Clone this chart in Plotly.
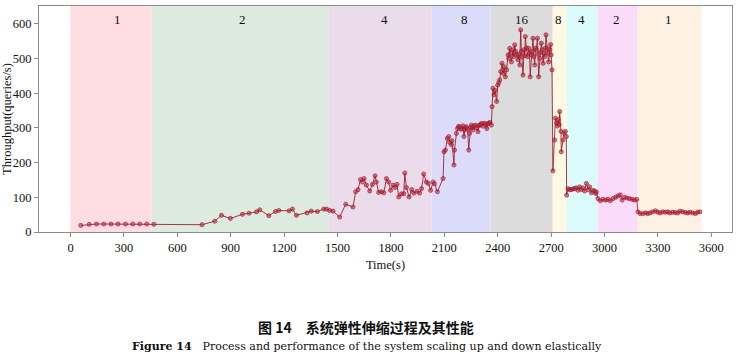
import plotly.graph_objects as go

# ---- data ----
band_start = [0, 455, 1451, 2029, 2360, 2709, 2787, 2961, 3186]
band_end = [455, 1451, 2029, 2360, 2709, 2787, 2961, 3186, 3545]
band_label = ["1", "2", "4", "8", "16", "8", "4", "2", "1"]
band_label_x = [266, 968, 1766, 2215, 2534, 2740, 2868, 3065, 3360]
band_color = ["#FFDDE3", "#DDEADF", "#EADCEA", "#DCDCFA", "#DCDCDC",
              "#FFF8E2", "#DCFBFC", "#FADCFA", "#FEF0E3"]

t_p1 = [58, 105, 146, 187, 228, 267, 309, 350, 389, 428, 468]
v_p1 = [19, 22, 23, 23, 23, 23, 23, 23, 23, 23, 22]

t_p2 = [739, 810, 848, 898, 966, 1003, 1045, 1063, 1114, 1151, 1170, 1228, 1247,
        1269, 1329, 1353, 1387, 1423, 1438, 1456, 1475]
v_p2 = [21, 31, 48, 39, 51, 54, 58, 64, 47, 59, 62, 61, 66,
        48, 55, 60, 59, 66, 66, 62, 60]

t_p4 = [1512, 1546, 1587, 1602, 1615, 1629, 1640, 1649, 1662, 1681, 1696, 1711,
        1718, 1731, 1747, 1760, 1775, 1787, 1798, 1812, 1823, 1834, 1844, 1859,
        1872, 1878, 1887, 1902, 1917, 1928, 1947, 1961, 1972, 1984, 1999, 2010,
        2023, 2037, 2045, 2061]
v_p4 = [43, 80, 72, 116, 122, 151, 144, 154, 135, 118, 137, 162,
        144, 114, 116, 113, 154, 144, 120, 135, 128, 137, 101, 110,
        110, 170, 128, 101, 122, 112, 117, 112, 125, 167, 144, 140,
        120, 144, 139, 116]

t_p8 = [2093, 2098, 2106, 2117, 2125, 2130, 2140, 2143, 2154, 2157, 2168, 2174,
        2180, 2186, 2192, 2199, 2205, 2210, 2214, 2219, 2224, 2231, 2237, 2242,
        2247, 2252, 2256, 2261, 2268, 2274, 2280, 2289, 2294, 2298, 2304, 2311,
        2318, 2326, 2332, 2339, 2345, 2350, 2357, 2364]
v_p8 = [154, 231, 236, 270, 275, 258, 251, 263, 193, 236, 284, 298,
        304, 303, 296, 298, 306, 275, 294, 300, 303, 296, 236, 284,
        300, 308, 302, 294, 305, 308, 300, 289, 306, 308, 310, 313,
        305, 313, 310, 298, 312, 313, 316, 308]

t_p16 = [2368, 2373, 2379, 2386, 2394, 2400, 2406, 2411, 2417, 2424, 2430, 2436,
         2443, 2450, 2458, 2462, 2467, 2472, 2477, 2486, 2490, 2495, 2500, 2505,
         2514, 2519, 2524, 2529, 2533, 2536, 2542, 2548, 2552, 2555, 2561, 2567,
         2574, 2579, 2582, 2589, 2594, 2598, 2603, 2608, 2612, 2617, 2623, 2627,
         2630, 2637, 2641, 2645, 2650, 2655, 2660, 2664, 2668, 2671, 2678, 2682,
         2686, 2693, 2697, 2700, 2705]
v_p16 = [361, 414, 395, 408, 376, 423, 430, 438, 462, 486, 457, 476,
         447, 467, 510, 500, 529, 515, 490, 525, 505, 539, 520, 510,
         496, 512, 481, 582, 520, 505, 452, 525, 508, 563, 530, 505,
         529, 515, 447, 510, 520, 558, 505, 481, 530, 525, 558, 512,
         447, 500, 518, 544, 525, 486, 515, 505, 530, 568, 529, 515,
         490, 525, 540, 510, 467]

t_p8b = [2710, 2720, 2724, 2730, 2735, 2740, 2745, 2748, 2755, 2757, 2767, 2772,
         2780, 2785]
v_p8b = [176, 265, 328, 314, 305, 324, 309, 347, 290, 231, 265, 285,
         290, 275]

t_p4b = [2787, 2795, 2804, 2813, 2822, 2832, 2841, 2851, 2860, 2870, 2879, 2888,
         2898, 2907, 2916, 2926, 2935, 2944, 2950, 2954]
v_p4b = [106, 125, 122, 122, 124, 125, 127, 120, 130, 122, 127, 118,
         140, 122, 130, 113, 120, 118, 111, 115]

t_p2b = [2963, 2976, 2991, 3006, 3019, 3032, 3047, 3062, 3075, 3088, 3099, 3112,
         3125, 3140, 3155, 3168, 3181]
v_p2b = [96, 90, 94, 92, 94, 90, 96, 100, 104, 107, 92, 100,
         98, 96, 94, 92, 94]

t_p1b = [3188, 3200, 3215, 3230, 3243, 3256, 3271, 3286, 3299, 3312, 3327, 3342,
         3355, 3368, 3383, 3398, 3411, 3424, 3439, 3454, 3467, 3480, 3495, 3510,
         3523, 3536]
v_p1b = [58, 53, 53, 55, 53, 55, 58, 61, 57, 55, 58, 57,
         58, 55, 57, 56, 55, 60, 58, 56, 55, 57, 55, 53,
         57, 58]

x_ticks = [0, 300, 600, 900, 1200, 1500, 1800, 2100, 2400, 2700, 3000, 3300, 3600]
y_ticks = [0, 100, 200, 300, 400, 500, 600]

time_s = t_p1 + t_p2 + t_p4 + t_p8 + t_p16 + t_p8b + t_p4b + t_p2b + t_p1b
throughput = v_p1 + v_p2 + v_p4 + v_p8 + v_p16 + v_p8b + v_p4b + v_p2b + v_p1b

SERIF = "Liberation Serif, Times New Roman, serif"

fig = go.Figure()
fig.add_trace(go.Scatter(
    x=time_s, y=throughput, mode="lines+markers",
    line=dict(color="rgba(150,25,45,0.85)", width=1),
    marker=dict(size=4.2, color="rgba(190,40,60,0.6)",
                line=dict(color="rgba(150,20,40,0.9)", width=0.6)),
    showlegend=False, hoverinfo="skip"))

shapes = []
annotations = []
for s, e, c in zip(band_start, band_end, band_color):
    shapes.append(dict(type="rect", xref="x", yref="paper", x0=s, x1=e, y0=0, y1=1,
                       fillcolor=c, line=dict(width=0), layer="below"))
for lx, lab in zip(band_label_x, band_label):
    annotations.append(dict(x=lx, y=611, xref="x", yref="y", text=lab,
                            showarrow=False, font=dict(family=SERIF, size=13, color="#111")))

# captions
annotations.append(dict(
    x=(366 - 39) / 693, y=(232 - 327) / 226, xref="paper", yref="paper",
    xanchor="center", yanchor="middle",
    text="<b>图 14\u2003系统弹性伸缩过程及其性能</b>", showarrow=False,
    font=dict(family="Noto Sans CJK SC", size=14, color="#111")))
annotations.append(dict(
    x=(367 - 39) / 693, y=(232 - 346) / 226, xref="paper", yref="paper",
    xanchor="center", yanchor="middle",
    text="<b>Figure 14</b>\u2003Process and performance of the system scaling up and down elastically",
    showarrow=False, font=dict(family="DejaVu Serif", size=11, color="#111")))

axis_common = dict(showline=True, linecolor="#8a8a8a", linewidth=1, mirror=True,
                   ticks="outside", ticklen=4, tickcolor="#8a8a8a", showgrid=False,
                   zeroline=False, automargin=False,
                   tickfont=dict(family=SERIF, size=12.5, color="#111"))

fig.update_layout(
    width=737, height=356,
    margin=dict(l=39, r=5, t=6, b=124),
    paper_bgcolor="white", plot_bgcolor="white",
    shapes=shapes, annotations=annotations,
    xaxis=dict(range=[-177, 3716], tickvals=x_ticks,
               title=dict(text="Time(s)", font=dict(family=SERIF, size=12.5, color="#111"),
                          standoff=6),
               **axis_common),
    yaxis=dict(range=[0, 651], tickvals=y_ticks,
               title=dict(text="Throughput(queries/s)",
                          font=dict(family=SERIF, size=12.5, color="#111"), standoff=2),
               **axis_common),
)

fig.write_html("out.html", config={"displayModeBar": False},
               post_script="document.body.style.margin='0';document.body.style.overflow='hidden';")
